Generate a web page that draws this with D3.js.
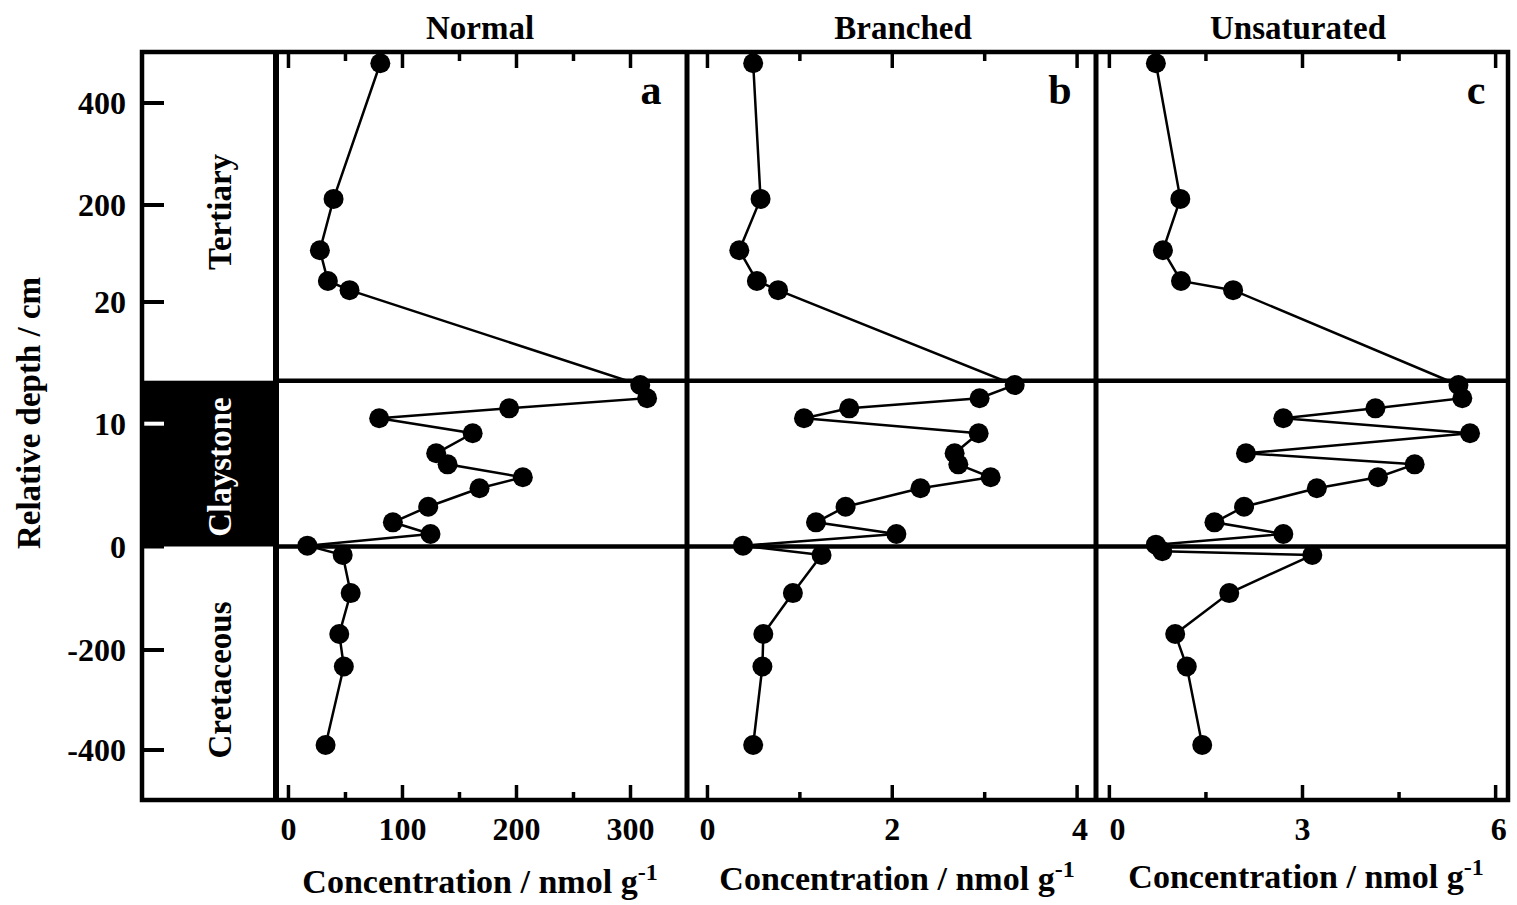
<!DOCTYPE html>
<html>
<head>
<meta charset="utf-8">
<script src="https://cdn.jsdelivr.net/npm/d3@7"></script>
<style>
  body { margin: 0; background: #fff; }
  text { font-family: "Liberation Serif", "Times New Roman", serif; font-weight: bold; }
</style>
</head>
<body>
<script>
// relative depth (cm) of each sample, shared by the normal and branched series
var depthsAB = [478, 212, 116, 59, 42, 13.15, 12.07, 11.25, 10.44, 9.22, 7.59, 6.69, 5.64, 4.74, 3.24, 1.97, 1.02, 0.07, -16.5, -90, -169, -233, -390];
// the unsaturated panel has one more sample just under the boundary
var depthsC = [478, 212, 116, 59, 42, 13.15, 12.07, 11.25, 10.44, 9.22, 7.59, 6.69, 5.64, 4.74, 3.24, 1.97, 1.02, 0.15, -9, -16.5, -90, -169, -233, -390];

var normal = [81, 40, 28, 35, 54, 309, 315, 194, 80, 162, 130, 140, 206, 168, 123, 92, 125, 17, 48, 55, 45, 49, 33];
var branched = [0.50, 0.58, 0.35, 0.54, 0.77, 3.33, 2.95, 1.54, 1.05, 2.94, 2.68, 2.72, 3.07, 2.31, 1.50, 1.18, 2.05, 0.39, 1.24, 0.93, 0.61, 0.60, 0.50];
var unsaturated = [0.73, 1.11, 0.84, 1.12, 1.93, 5.43, 5.49, 4.14, 2.71, 5.61, 2.13, 4.75, 4.18, 3.23, 2.10, 1.64, 2.71, 0.73, 0.83, 3.16, 1.87, 1.03, 1.21, 1.45];

var yTicks = [400, 200, 20, 10, 0, -200, -400];
var panelTitles = ["Normal", "Branched", "Unsaturated"];
var panelLetters = ["a", "b", "c"];
var majorTicks = [[0, 100, 200, 300], [0, 2, 4], [0, 3, 6]];
var minorTicks = [[50, 150, 250], [1, 3], [1.5, 4.5]];
var claystoneTop = 13.5;

var svgWidth = 1517;
var svgHeight = 905;
var plotTop = 52, plotBottom = 800;
var colLeft = 142, colRight = 276, plotRight = 1508;

var svg = d3.select("body")
  .append("svg")
  .attr("width", svgWidth)
  .attr("height", svgHeight);

// broken depth axis: each section has its own stretch
var yScale = d3.scaleLinear()
  .domain([-500, -400, -200, 0, claystoneTop, 20, 200, 400, 500])
  .range([plotBottom, 750, 650, 546.5, 380.7, 302, 205, 103, plotTop]);

var panels = [
  {x0: colRight, x1: 687, domain: [-10.5, 350], depth: depthsAB, values: normal, titleX: 480, labelX: 480, labelY: 893, letterX: 651, shift: {}},
  {x0: 687, x1: 1096, domain: [-0.216, 4.21], depth: depthsAB, values: branched, titleX: 903, labelX: 897, labelY: 890, letterX: 1060, shift: {4: 3}},
  {x0: 1096, x1: plotRight, domain: [-0.2, 6.2], depth: depthsC, values: unsaturated, titleX: 1298, labelX: 1306, labelY: 888, letterX: 1476, shift: {0: 8, 6: 3}}
];

// label column: claystone block
svg.append("rect")
  .attr("x", colLeft)
  .attr("y", yScale(claystoneTop))
  .attr("width", colRight - colLeft)
  .attr("height", yScale(0) - yScale(claystoneTop))
  .attr("fill", "#000");

// left depth ticks and labels
yTicks.forEach(function(t) {
  var inBlock = t > 0 && t < claystoneTop;
  svg.append("line")
    .attr("x1", colLeft)
    .attr("x2", colLeft + 22)
    .attr("y1", yScale(t))
    .attr("y2", yScale(t))
    .attr("stroke", inBlock ? "#fff" : "#000")
    .attr("stroke-width", 4);
  svg.append("text")
    .attr("x", 126)
    .attr("y", yScale(t))
    .attr("dy", "0.35em")
    .attr("text-anchor", "end")
    .style("font-size", "32px")
    .text(t);
});

// section names
var sections = [
  {name: "Tertiary", y: 212, fill: "#000"},
  {name: "Claystone", y: 467, fill: "#fff"},
  {name: "Cretaceous", y: 680, fill: "#000"}
];
sections.forEach(function(s) {
  svg.append("text")
    .attr("transform", "translate(" + 231 + "," + s.y + ") rotate(-90)")
    .attr("text-anchor", "middle")
    .attr("fill", s.fill)
    .style("font-size", "33px")
    .text(s.name);
});

svg.append("text")
  .attr("transform", "translate(40,413) rotate(-90)")
  .attr("text-anchor", "middle")
  .style("font-size", "33px")
  .text("Relative depth / cm");

panels.forEach(function(p, i) {
  var x = d3.scaleLinear().domain(p.domain).range([p.x0, p.x1]);
  var g = svg.append("g");

  // major and minor ticks, bottom and top, pointing inward
  var bottomMajor = d3.axisBottom(x).tickValues(majorTicks[i]).tickSizeInner(-15).tickSizeOuter(0).tickPadding(17).tickFormat(d3.format("d"));
  var bottomMinor = d3.axisBottom(x).tickValues(minorTicks[i]).tickSizeInner(-8).tickSizeOuter(0).tickFormat("");
  var topMajor = d3.axisTop(x).tickValues(majorTicks[i]).tickSizeInner(-16).tickSizeOuter(0).tickFormat("");
  var topMinor = d3.axisTop(x).tickValues(minorTicks[i]).tickSizeInner(-9).tickSizeOuter(0).tickFormat("");

  [[bottomMajor, plotBottom], [bottomMinor, plotBottom], [topMajor, plotTop], [topMinor, plotTop]].forEach(function(a) {
    var ax = g.append("g")
      .attr("transform", "translate(0," + a[1] + ")")
      .call(a[0]);
    ax.select(".domain").remove();
    ax.selectAll(".tick line").attr("stroke", "#000").attr("stroke-width", 3.5);
    ax.selectAll(".tick text")
      .attr("fill", "#000")
      .attr("dx", function(d) { return p.shift[d] || 0; })
      .style("font-size", "32px")
      .style("font-family", "'Liberation Serif', 'Times New Roman', serif")
      .style("font-weight", "bold");
  });

  // line and dots
  var pts = p.values.map(function(v, k) { return [v, p.depth[k]]; });
  g.append("path")
    .datum(pts)
    .attr("fill", "none")
    .attr("stroke", "#000")
    .attr("stroke-width", 2.5)
    .attr("d", d3.line().x(function(d) { return x(d[0]); }).y(function(d) { return yScale(d[1]); }));

  g.selectAll("circle")
    .data(pts)
    .enter()
    .append("circle")
    .attr("cx", function(d) { return x(d[0]); })
    .attr("cy", function(d) { return yScale(d[1]); })
    .attr("r", 10)
    .attr("fill", "#000");

  svg.append("text")
    .attr("x", p.titleX)
    .attr("y", 39)
    .attr("text-anchor", "middle")
    .style("font-size", "33px")
    .text(panelTitles[i]);

  svg.append("text")
    .attr("x", p.letterX)
    .attr("y", 104)
    .attr("text-anchor", "middle")
    .style("font-size", "42px")
    .text(panelLetters[i]);

  var lab = svg.append("text")
    .attr("x", p.labelX)
    .attr("y", p.labelY)
    .attr("text-anchor", "middle")
    .style("font-size", "34px")
    .text("Concentration / nmol g");
  lab.append("tspan")
    .attr("dy", -13)
    .style("font-size", "24px")
    .text("-1");
});

// boundary lines across the panels
[0, claystoneTop].forEach(function(d) {
  svg.append("line")
    .attr("x1", colRight)
    .attr("x2", plotRight)
    .attr("y1", yScale(d))
    .attr("y2", yScale(d))
    .attr("stroke", "#000")
    .attr("stroke-width", 4.5);
});

// frame
svg.append("rect")
  .attr("x", colLeft)
  .attr("y", plotTop)
  .attr("width", plotRight - colLeft)
  .attr("height", plotBottom - plotTop)
  .attr("fill", "none")
  .attr("stroke", "#000")
  .attr("stroke-width", 4.5);

[colRight, 687, 1096].forEach(function(xv, i) {
  svg.append("line")
    .attr("x1", xv)
    .attr("x2", xv)
    .attr("y1", plotTop)
    .attr("y2", plotBottom)
    .attr("stroke", "#000")
    .attr("stroke-width", i === 0 ? 6 : 5);
});
</script>
</body>
</html>
